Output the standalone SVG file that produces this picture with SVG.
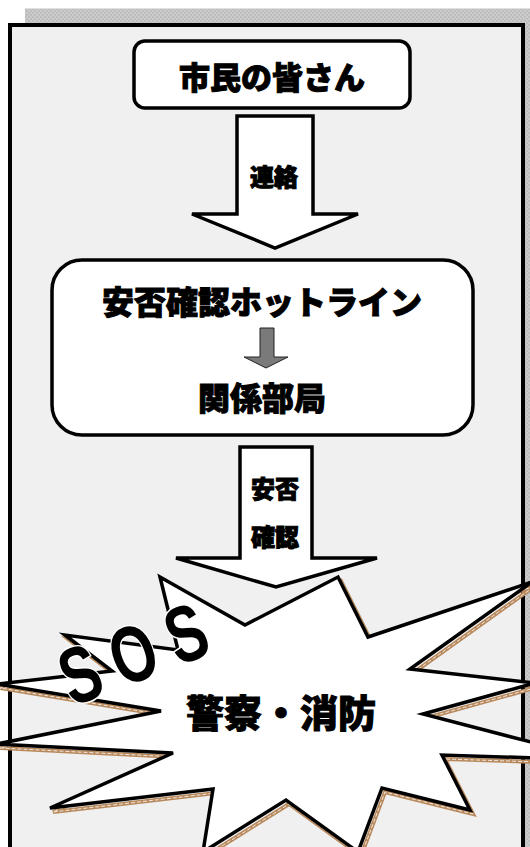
<svg xmlns="http://www.w3.org/2000/svg" width="530" height="847" viewBox="0 0 530 847">
<defs>
<pattern id="chk" width="4" height="4" patternUnits="userSpaceOnUse">
<rect width="4" height="4" fill="#cbcbcb"/>
<rect width="2" height="2" fill="#bdbdbd"/>
<rect x="2" y="2" width="2" height="2" fill="#bdbdbd"/>
</pattern>
<style>
.box{fill:#fff;stroke:#000;stroke-width:3.5}
.arr{fill:#fff;stroke:#000;stroke-width:3.5;stroke-linejoin:miter}
.jp{font-family:"Noto Sans CJK JP","Noto Sans CJK SC",sans-serif;font-weight:900;fill:#000;stroke:#000;stroke-width:1;text-anchor:middle}
</style>
</defs>
<rect width="530" height="847" fill="#fff"/>
<g id="frame">
<rect x="25" y="8" width="510" height="850" fill="url(#chk)"/>
<line x1="25" y1="8.5" x2="530" y2="8.5" stroke="#e0e0e0" stroke-width="1"/>
<rect x="10" y="25" width="513" height="840" fill="#f0f0f0" stroke="#000" stroke-width="4"/>
</g>
<g id="connectors">
<g id="arrow1">
<polygon class="arr" points="237,116 313,116 313,214 358,214 275,248 192,214 237,214"/>
<text class="jp" x="274" y="186" font-size="24">連絡</text>
</g>
<g id="arrow2">
<polygon class="arr" points="240,447 312,447 312,558 377,558 276,587 176,558 240,558"/>
<text class="jp" x="275" y="498" font-size="24">安否</text>
<text class="jp" x="275" y="546" font-size="24">確認</text>
</g>
</g>
<g id="citizens">
<rect class="box" x="134" y="41" width="276" height="67" rx="11"/>
<text class="jp" x="272" y="89" font-size="31">市民の皆さん</text>
</g>
<g id="hotline">
<rect class="box" x="52" y="260" width="421" height="175" rx="30"/>
<text class="jp" x="262" y="314" font-size="32">安否確認ホットライン</text>
<polygon points="260,328 274,328 274,357 288,357 266,368 244,357 260,357" fill="#7a7a7a" stroke="#222" stroke-width="1"/>
<text class="jp" x="262" y="410" font-size="32">関係部局</text>
</g>
<g id="police-fire">
<polygon transform="translate(3,4)" points="160,577 245,625 338,577 368,637 532,582 410,669 535,683 423,714 600,760 442,755 470,810 382,788 358,852 286,800 203,852 213,789 50,808 173,753 -3,744 161,711 -3,684 112,671 65,635 178,650" fill="none" stroke="#b8895c" stroke-width="4"/>
<polygon transform="translate(3,4)" points="160,577 245,625 338,577 368,637 532,582 410,669 535,683 423,714 600,760 442,755 470,810 382,788 358,852 286,800 203,852 213,789 50,808 173,753 -3,744 161,711 -3,684 112,671 65,635 178,650" fill="none" stroke="#fff" stroke-width="0.8" stroke-dasharray="4 2"/>
<polygon points="160,577 245,625 338,577 368,637 532,582 410,669 535,683 423,714 600,760 442,755 470,810 382,788 358,852 286,800 203,852 213,789 50,808 173,753 -3,744 161,711 -3,684 112,671 65,635 178,650" fill="#fff" stroke="#000" stroke-width="3.5"/>
<text class="jp" x="281" y="727" font-size="38">警察・消防</text>
<text transform="translate(133,653) rotate(-21) scale(0.72,1)" x="10.5" y="28.6" font-family="'Liberation Sans',Arial,sans-serif" font-weight="bold" font-size="80" letter-spacing="21" text-anchor="middle" fill="#000" stroke="#fff" stroke-width="3" paint-order="stroke">SOS</text>
</g>
</svg>
